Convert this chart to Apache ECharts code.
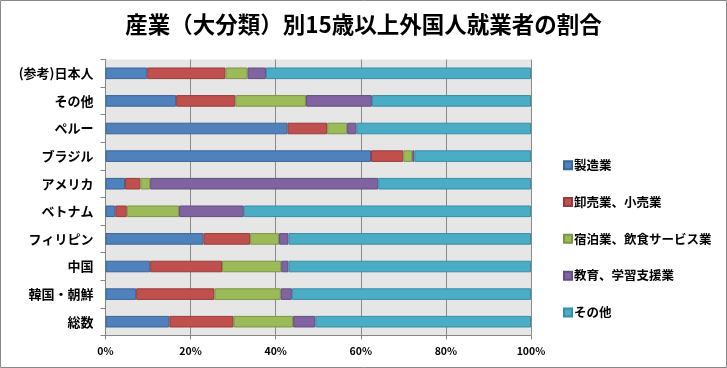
<!DOCTYPE html>
<html><head><meta charset="utf-8">
<script src="https://cdn.jsdelivr.net/npm/echarts@6/dist/echarts.min.js"></script>
<style>html,body{margin:0;padding:0;background:#fff}#c{width:727px;height:368px}</style>
</head><body><div id="c"></div>
<script>
const categories = ['総数','韓国・朝鮮','中国','フィリピン','ベトナム','アメリカ','ブラジル','ペルー','その他','(参考)日本人'];
const seriesNames = ['製造業','卸売業、小売業','宿泊業、飲食サービス業','教育、学習支援業','その他'];
const manufacturing = [15.0, 7.2, 10.5, 23.0, 2.3, 4.6, 62.4, 42.8, 16.6, 9.8];
const wholesaleRetail = [15.1, 18.4, 16.9, 11.0, 2.7, 3.6, 7.6, 9.3, 13.9, 18.4];
const hospitalityFood = [14.0, 15.6, 13.9, 6.8, 12.3, 2.3, 2.1, 4.7, 16.6, 5.2];
const education = [5.2, 2.6, 1.7, 2.2, 15.2, 53.6, 0.5, 2.2, 15.5, 4.3];
const others = [50.7, 56.2, 57.0, 57.0, 67.5, 35.9, 27.4, 41.0, 37.4, 62.3];
const tickLabels = ['0%','20%','40%','60%','80%','100%'];

const colors = ['#4F81BD','#C0504D','#9BBB59','#8064A2','#4BACC6'];
const borders = ['#3A6597','#963C3A','#7A9444','#634D80','#378EA5'];
const dataList = [manufacturing, wholesaleRetail, hospitalityFood, education, others];
const font = '"Noto Sans CJK JP", sans-serif';

const chart = echarts.init(document.getElementById('c'));
chart.setOption({
  animation: false,
  title: {
    text: '産業（大分類）別15歳以上外国人就業者の割合',
    left: 'center', top: 8,
    textStyle: {fontFamily: font, fontWeight: 'bold', fontSize: 22.5, color: '#000'}
  },
  graphic: [{type: 'rect', shape: {x: 0.5, y: 0.5, width: 726, height: 367},
    style: {fill: 'none', stroke: '#888', lineWidth: 1}, silent: true}],
  legend: {
    orient: 'vertical', left: 558, top: 154, itemGap: 24.3,
    itemWidth: 8, itemHeight: 8, icon: 'rect',
    textStyle: {fontFamily: font, fontWeight: 'bold', fontSize: 12.5, color: '#000', padding: [0,0,0,-3]},
    data: seriesNames
  },
  grid: {left: 105.5, right: 196, top: 59.5, bottom: 32.5, show: true, backgroundColor: '#E6E6E6', borderWidth: 0},
  xAxis: {
    type: 'value', min: 0, max: 100, interval: 20,
    axisLine: {show: true, lineStyle: {color: '#868686'}},
    axisTick: {show: true, length: 4, lineStyle: {color: '#868686'}},
    splitLine: {show: true, lineStyle: {color: '#8a8a8a'}},
    axisLabel: {fontFamily: font, fontWeight: 'bold', fontSize: 10.5, color: '#000', margin: 10,
      formatter: function (v) { return tickLabels[Math.round(v / 20)]; }}
  },
  yAxis: {
    type: 'category', data: categories,
    axisLine: {show: true, lineStyle: {color: '#868686'}},
    axisTick: {show: true, length: 5, lineStyle: {color: '#868686'}},
    axisLabel: {fontFamily: font, fontWeight: 'bold', fontSize: 13, color: '#000', margin: 12}
  },
  series: seriesNames.map((n, i) => ({
    name: n, type: 'bar', stack: 'a', barWidth: '42%',
    data: dataList[i],
    itemStyle: {color: colors[i], borderColor: borders[i], borderWidth: 1}
  }))
});
</script></body></html>
